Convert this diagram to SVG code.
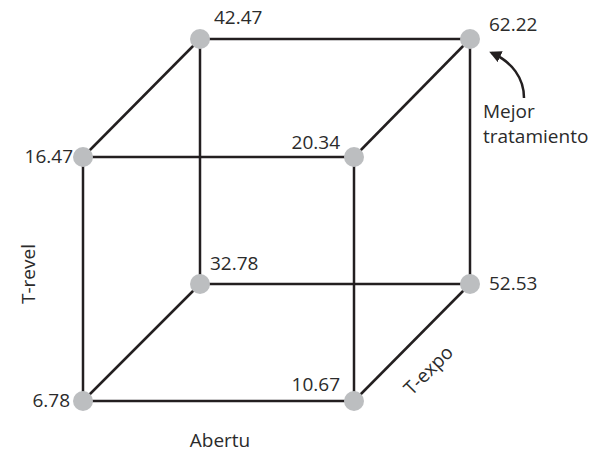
<svg xmlns="http://www.w3.org/2000/svg" width="591" height="464" viewBox="0 0 591 464">
<style>
.e{stroke:#231f20;stroke-width:2.5;fill:none}
.n{fill:#bcbec0}
text{font-family:"Open Sans","Noto Sans",sans-serif;font-size:19px;fill:#2b2b2b}
</style>
<defs>
<marker id="ah" markerWidth="12" markerHeight="12" refX="9" refY="6" orient="auto" markerUnits="userSpaceOnUse">
<path d="M0,0 L12,6 L0,12 z" fill="#231f20"/>
</marker>
</defs>
<rect width="591" height="464" fill="#fff"/>
<g id="connectors">
<line class="e" x1="200" y1="39" x2="470" y2="39"/>
<line class="e" x1="83" y1="157" x2="354" y2="157"/>
<line class="e" x1="200" y1="284" x2="470" y2="284"/>
<line class="e" x1="83" y1="401" x2="354" y2="401"/>
<line class="e" x1="83" y1="157" x2="83" y2="401"/>
<line class="e" x1="200" y1="39" x2="200" y2="284"/>
<line class="e" x1="354" y1="157" x2="354" y2="401"/>
<line class="e" x1="470" y1="39" x2="470" y2="284"/>
<line class="e" x1="83" y1="157" x2="200" y2="39"/>
<line class="e" x1="354" y1="157" x2="470" y2="39"/>
<line class="e" x1="83" y1="401" x2="200" y2="284"/>
<line class="e" x1="354" y1="401" x2="470" y2="284"/>
<path class="e" d="M524,98 C524,78 512,62 492,53" marker-end="url(#ah)"/>
</g>
<g id="n1"><circle class="n" cx="200" cy="39" r="10"/><text x="214" y="24">42.47</text></g>
<g id="n2"><circle class="n" cx="470" cy="39" r="10"/><text x="489" y="31">62.22</text></g>
<g id="n3"><circle class="n" cx="83" cy="157" r="10"/><text x="73" y="163" text-anchor="end">16.47</text></g>
<g id="n4"><circle class="n" cx="354" cy="157" r="10"/><text x="340" y="149" text-anchor="end">20.34</text></g>
<g id="n5"><circle class="n" cx="200" cy="284" r="10"/><text x="210" y="270">32.78</text></g>
<g id="n6"><circle class="n" cx="470" cy="284" r="10"/><text x="489" y="290">52.53</text></g>
<g id="n7"><circle class="n" cx="83" cy="401" r="10"/><text x="70" y="407" text-anchor="end">6.78</text></g>
<g id="n8"><circle class="n" cx="354" cy="401" r="10"/><text x="340" y="391" text-anchor="end">10.67</text></g>
<g id="labels">
<text x="483" y="118">Mejor</text>
<text x="483" y="143">tratamiento</text>
<text x="220" y="447" text-anchor="middle">Abertu</text>
<text transform="translate(35,274) rotate(-90)" text-anchor="middle">T-revel</text>
<text transform="translate(433,375) rotate(-45)" text-anchor="middle">T-expo</text>
</g>
</svg>
